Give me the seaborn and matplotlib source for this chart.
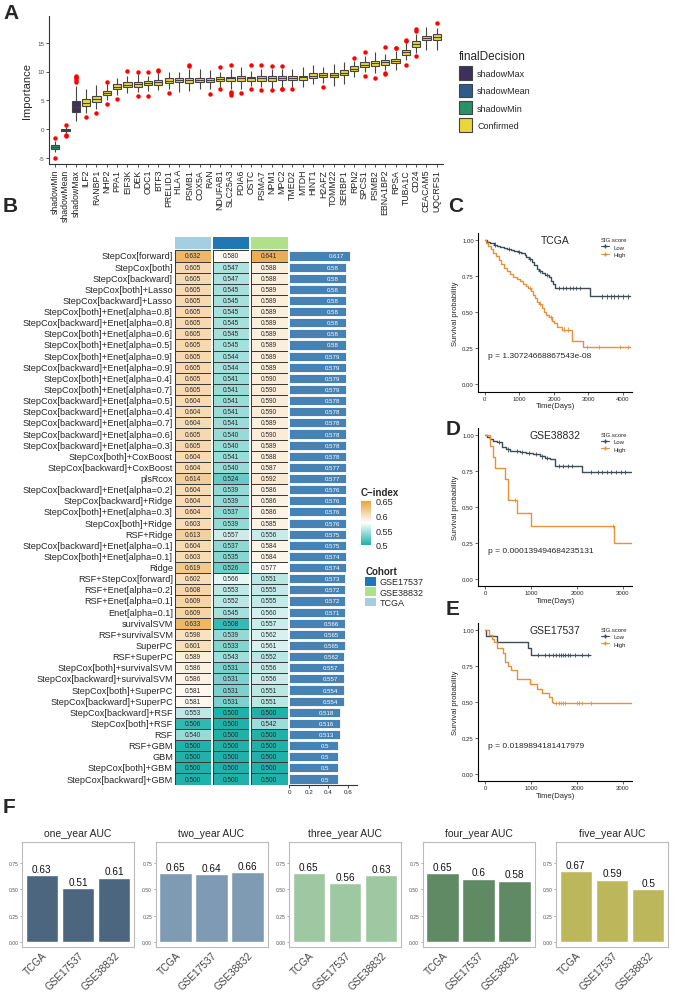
import numpy as np
import pandas as pd
import matplotlib
matplotlib.use("Agg")
import matplotlib.pyplot as plt
import matplotlib.transforms as mtransforms
import seaborn as sns
from matplotlib.colors import LinearSegmentedColormap, ListedColormap
from matplotlib.patches import Patch
from matplotlib.lines import Line2D

sns.set_theme(style="white")
plt.rcParams["font.family"] = ["Liberation Sans", "DejaVu Sans"]

# ---------------- Panel A data ----------------
features = ["shadowMin", "shadowMean", "shadowMax", "ILF2", "RANBP1", "NHP2", "PPA1", "EIF3K", "DEK",
            "ODC1", "BTF3", "PRELID1", "HLA A", "PSMB1", "COX5A", "RAN", "NDUFAB1", "SLC25A3", "PDIA6",
            "OSTC", "PSMA7", "NPM1", "MPC2", "TMED2", "MTDH", "HINT1", "H2AFZ", "TOMM22", "SERBP1",
            "RPN2", "SPCS1", "PSMB2", "EBNA1BP2", "RPSA", "TUBA1C", "CD24", "CEACAM5", "UQCRFS1"]
decision = ["shadowMin", "shadowMean", "shadowMax"] + ["Confirmed"] * 35
box_lo = [-4.0, -0.6, 1.5, 2.8, 3.5, 5.0, 6.0, 6.3, 6.4, 6.6, 6.8, 7.0, 6.5, 6.6, 6.9, 7.0, 7.4, 7.0, 7.0,
          7.5, 7.3, 7.2, 7.3, 7.4, 7.4, 7.8, 8.0, 7.5, 7.8, 9.0, 10.0, 9.8, 10.2, 10.3, 12.0, 13.2, 13.7, 13.8]
box_q1 = [-3.4, -0.35, 3.0, 4.1, 4.8, 5.9, 6.9, 7.3, 7.4, 7.6, 7.7, 8.0, 8.1, 8.0, 8.2, 8.1, 8.3, 8.4, 8.4,
          8.4, 8.4, 8.4, 8.5, 8.5, 8.6, 8.9, 9.0, 9.0, 9.4, 10.1, 10.8, 10.9, 11.2, 11.4, 12.9, 14.3, 15.4, 15.5]
box_med = [-3.0, -0.1, 3.9, 4.6, 5.3, 6.3, 7.3, 7.7, 7.8, 8.0, 8.1, 8.4, 8.5, 8.5, 8.6, 8.5, 8.7, 8.8, 8.9,
           8.8, 8.8, 8.8, 8.9, 8.9, 9.0, 9.3, 9.4, 9.4, 9.8, 10.5, 11.2, 11.4, 11.6, 11.8, 13.3, 14.8, 15.8, 16.0]
box_q3 = [-2.7, 0.1, 4.9, 5.2, 5.8, 6.7, 7.8, 8.1, 8.2, 8.4, 8.5, 8.8, 8.8, 8.9, 8.9, 8.8, 9.0, 9.1, 9.3,
          9.0, 9.2, 9.2, 9.3, 9.3, 9.3, 9.7, 9.7, 9.8, 10.2, 10.9, 11.6, 11.8, 12.0, 12.2, 13.7, 15.2, 16.2, 16.5]
box_hi = [-2.0, 0.4, 7.5, 7.0, 7.6, 7.8, 8.8, 9.3, 9.5, 9.3, 9.7, 10.0, 10.0, 10.5, 10.4, 10.2, 10.0, 10.5, 10.8,
          10.1, 10.5, 10.5, 10.5, 10.5, 10.8, 11.1, 10.8, 11.3, 11.7, 11.8, 12.7, 13.3, 13.0, 13.5, 15.0, 16.5, 17.7, 17.6]
out_feature = ["shadowMin", "shadowMin", "shadowMean", "shadowMean", "shadowMean",
               "shadowMax", "shadowMax", "shadowMax", "shadowMax", "shadowMax",
               "ILF2", "RANBP1", "NHP2", "NHP2", "PPA1", "EIF3K", "DEK", "DEK", "ODC1", "ODC1",
               "BTF3", "BTF3", "PRELID1", "PSMB1", "PSMB1", "RAN", "NDUFAB1", "NDUFAB1",
               "SLC25A3", "SLC25A3", "SLC25A3", "SLC25A3", "PDIA6", "OSTC", "OSTC", "PSMA7", "PSMA7",
               "NPM1", "NPM1", "MPC2", "MPC2", "MPC2", "TMED2", "H2AFZ", "RPN2", "SPCS1", "SPCS1",
               "PSMB2", "EBNA1BP2", "EBNA1BP2", "EBNA1BP2", "RPSA", "RPSA", "TUBA1C", "TUBA1C", "TUBA1C",
               "CD24", "CD24", "CD24", "UQCRFS1"]
out_value = [-1.5, -5.0, 0.8, -1.0, -1.1,
             8.2, 8.5, 8.8, 9.1, 9.3,
             2.1, 2.9, 4.3, 8.1, 5.2, 10.1, 10.0, 5.7, 10.0, 5.8,
             10.1, 10.3, 6.2, 10.9, 11.1, 6.1, 10.7, 6.9,
             11.1, 6.5, 6.2, 6.0, 6.3, 11.1, 7.0, 11.1, 6.8,
             10.9, 6.8, 11.0, 6.9, 7.0, 6.9, 7.3, 12.3, 13.4, 9.2,
             8.9, 14.2, 9.6, 9.8, 14.0, 14.1, 15.3, 15.4, 11.2,
             17.0, 17.3, 12.6, 18.4]
decision_order = ["shadowMax", "shadowMean", "shadowMin", "Confirmed"]
decision_colors = ["#3E2F5B", "#2E5C8A", "#2A9068", "#E9D63A"]

# ---------------- Panel B data ----------------
methods = ["StepCox[forward]", "StepCox[both]", "StepCox[backward]", "StepCox[both]+Lasso",
           "StepCox[backward]+Lasso", "StepCox[both]+Enet[alpha=0.8]", "StepCox[backward]+Enet[alpha=0.8]",
           "StepCox[both]+Enet[alpha=0.6]", "StepCox[both]+Enet[alpha=0.5]", "StepCox[both]+Enet[alpha=0.9]",
           "StepCox[backward]+Enet[alpha=0.9]", "StepCox[both]+Enet[alpha=0.4]", "StepCox[both]+Enet[alpha=0.7]",
           "StepCox[backward]+Enet[alpha=0.5]", "StepCox[backward]+Enet[alpha=0.4]",
           "StepCox[backward]+Enet[alpha=0.7]", "StepCox[backward]+Enet[alpha=0.6]",
           "StepCox[backward]+Enet[alpha=0.3]", "StepCox[both]+CoxBoost", "StepCox[backward]+CoxBoost",
           "plsRcox", "StepCox[backward]+Enet[alpha=0.2]", "StepCox[backward]+Ridge",
           "StepCox[both]+Enet[alpha=0.3]", "StepCox[both]+Ridge", "RSF+Ridge",
           "StepCox[backward]+Enet[alpha=0.1]", "StepCox[both]+Enet[alpha=0.1]", "Ridge",
           "RSF+StepCox[forward]", "RSF+Enet[alpha=0.2]", "RSF+Enet[alpha=0.1]", "Enet[alpha=0.1]",
           "survivalSVM", "RSF+survivalSVM", "SuperPC", "RSF+SuperPC", "StepCox[both]+survivalSVM",
           "StepCox[backward]+survivalSVM", "StepCox[both]+SuperPC", "StepCox[backward]+SuperPC",
           "StepCox[backward]+RSF", "StepCox[both]+RSF", "RSF", "RSF+GBM", "GBM", "StepCox[both]+GBM",
           "StepCox[backward]+GBM"]
cidx_tcga = [0.632, 0.605, 0.605, 0.605, 0.605, 0.605, 0.605, 0.605, 0.605, 0.605, 0.605, 0.605, 0.605,
             0.604, 0.604, 0.604, 0.605, 0.605, 0.604, 0.604, 0.614, 0.604, 0.604, 0.604, 0.603, 0.613,
             0.604, 0.603, 0.619, 0.602, 0.608, 0.609, 0.609, 0.633, 0.598, 0.601, 0.589, 0.586, 0.586,
             0.581, 0.581, 0.553, 0.506, 0.540, 0.500, 0.500, 0.500, 0.500]
cidx_gse17537 = [0.580, 0.547, 0.547, 0.545, 0.545, 0.545, 0.545, 0.545, 0.545, 0.544, 0.544, 0.541, 0.541,
                 0.541, 0.541, 0.541, 0.540, 0.540, 0.541, 0.540, 0.524, 0.539, 0.539, 0.537, 0.539, 0.557,
                 0.537, 0.535, 0.526, 0.566, 0.553, 0.552, 0.545, 0.508, 0.539, 0.533, 0.543, 0.531, 0.531,
                 0.531, 0.531, 0.500, 0.500, 0.500, 0.500, 0.500, 0.500, 0.500]
cidx_gse38832 = [0.641, 0.588, 0.588, 0.589, 0.589, 0.589, 0.589, 0.589, 0.589, 0.589, 0.589, 0.590, 0.590,
                 0.590, 0.590, 0.589, 0.590, 0.589, 0.588, 0.587, 0.592, 0.586, 0.586, 0.586, 0.585, 0.556,
                 0.584, 0.584, 0.577, 0.551, 0.555, 0.555, 0.560, 0.557, 0.562, 0.561, 0.552, 0.556, 0.556,
                 0.551, 0.551, 0.500, 0.542, 0.500, 0.500, 0.500, 0.500, 0.500]
cidx_mean = [0.617, 0.58, 0.58, 0.58, 0.58, 0.58, 0.58, 0.58, 0.58, 0.579, 0.579, 0.579, 0.579,
             0.578, 0.578, 0.578, 0.578, 0.578, 0.578, 0.577, 0.577, 0.576, 0.576, 0.576, 0.576, 0.575,
             0.575, 0.574, 0.574, 0.573, 0.572, 0.572, 0.571, 0.566, 0.565, 0.565, 0.562, 0.557, 0.557,
             0.554, 0.554, 0.518, 0.516, 0.513, 0.5, 0.5, 0.5, 0.5]
heat_cols = ["TCGA", "GSE17537", "GSE38832"]
cohort_colors = {"TCGA": "#A6CEE3", "GSE17537": "#1F78B4", "GSE38832": "#B2DF8A"}
cohort_legend = ["GSE17537", "GSE38832", "TCGA"]

# ---------------- Panels C-E data (Kaplan-Meier) ----------------
c_low_t = [0, 60, 150, 250, 350, 450, 550, 650, 750, 850, 950, 1050, 1150, 1200, 1280, 1350, 1420, 1500,
           1560, 1650, 1750, 1850, 1920, 1980, 2030, 3050, 4200]
c_low_s = [1.0, 0.99, 0.98, 0.97, 0.96, 0.955, 0.945, 0.94, 0.93, 0.925, 0.92, 0.91, 0.90, 0.885, 0.87,
           0.85, 0.83, 0.80, 0.785, 0.77, 0.76, 0.745, 0.72, 0.70, 0.667, 0.61, 0.61]
c_low_cens = [300, 700, 1000, 1300, 1600, 1800, 2150, 2250, 2350, 2450, 2550, 2650, 2750,
              3400, 3550, 3650, 3750, 3850, 4000, 4150]
c_high_t = [0, 40, 100, 170, 240, 320, 400, 480, 560, 650, 730, 820, 920, 1010, 1100, 1200, 1260, 1330,
            1400, 1460, 1520, 1580, 1640, 1700, 1780, 1850, 1930, 2000, 2100, 2230, 2520, 2850, 4200]
c_high_s = [1.0, 0.98, 0.96, 0.94, 0.915, 0.89, 0.86, 0.835, 0.81, 0.785, 0.765, 0.745, 0.73, 0.715,
            0.70, 0.685, 0.67, 0.645, 0.62, 0.60, 0.575, 0.56, 0.53, 0.50, 0.48, 0.465, 0.44, 0.425,
            0.40, 0.38, 0.30, 0.257, 0.257]
c_high_cens = [1300, 1600, 1900, 2300, 2400, 2950, 3300, 3900, 4150]

d_low_t = [0, 50, 109, 180, 254, 362, 450, 543, 761, 900, 1050, 1196, 1300, 1413, 1522, 2101, 3190]
d_low_s = [1.0, 0.985, 0.972, 0.96, 0.95, 0.915, 0.90, 0.89, 0.88, 0.875, 0.868, 0.852, 0.84, 0.83,
           0.783, 0.741, 0.741]
d_low_cens = [300, 500, 700, 800, 950, 1100, 1250, 1350, 1600, 1700, 1800, 1900, 2300, 2450, 2550,
              2650, 2750, 2850, 2950, 3050]
d_high_t = [0, 109, 181, 217, 435, 507, 700, 990, 2800, 3190]
d_high_s = [1.0, 0.926, 0.845, 0.769, 0.694, 0.549, 0.458, 0.366, 0.247, 0.247]
d_high_cens = [650, 2780]

e_low_t = [0, 20, 254, 942, 993, 2283]
e_low_s = [1.0, 0.96, 0.915, 0.873, 0.826, 0.826]
e_low_cens = [1150, 1300, 1400, 1480, 1550, 1600, 1650, 1700, 1750, 1800, 1850, 1950, 2100, 2250]
e_high_t = [0, 80, 152, 203, 254, 399, 435, 507, 558, 688, 703, 978, 1138, 1232, 1399, 1449, 1486, 3190]
e_high_s = [1.0, 0.965, 0.94, 0.915, 0.873, 0.838, 0.78, 0.75, 0.72, 0.686, 0.663, 0.628, 0.593, 0.565,
            0.535, 0.50, 0.493, 0.493]
e_high_cens = [1550, 1600, 1650, 1700, 1750, 2000, 2050, 2100, 2300]

# ---------------- Panel F data ----------------
auc_cohorts = ["TCGA", "GSE17537", "GSE38832"]
auc_titles = ["one_year AUC", "two_year AUC", "three_year AUC", "four_year AUC", "five_year AUC"]
auc_one = [0.63, 0.51, 0.61]
auc_two = [0.65, 0.64, 0.66]
auc_three = [0.65, 0.56, 0.63]
auc_four = [0.65, 0.6, 0.58]
auc_five = [0.67, 0.59, 0.5]
auc_colors = ["#4D6680", "#7F9BB3", "#9DC8A1", "#5F8A64", "#BDB75C"]

# ---------------- figure ----------------
W, H = 680, 995
fig = plt.figure(figsize=(W / 100, H / 100), dpi=100)


def ax_px(l, t, w, h):
    return fig.add_axes([l / W, 1 - (t + h) / H, w / W, h / H])


def panel_label(x, y, s):
    fig.text(x / W, 1 - y / H, s, fontsize=15, fontweight="bold", va="top", ha="left")


# ---------------- Panel A ----------------
axA = ax_px(49, 17, 394, 148)
rows = []
for f, d, lo, q1, md, q3, hi in zip(features, decision, box_lo, box_q1, box_med, box_q3, box_hi):
    for v in (lo, q1, q1, md, q3, q3, hi):
        rows.append((f, d, v))
dfA = pd.DataFrame(rows, columns=["feature", "decision", "value"])
sns.boxplot(data=dfA, x="feature", y="value", hue="decision", order=features, hue_order=decision_order,
            palette=decision_colors, whis=(0, 100), showfliers=False, showcaps=False, dodge=False,
            width=0.8, linecolor="#444444", linewidth=0.8, saturation=1, legend=False, ax=axA)
sns.stripplot(x=out_feature, y=out_value, order=features, color="red", jitter=False, size=3.2,
              linewidth=0, ax=axA)
axA.set_xlim(-0.6, 37.6)
axA.set_ylim(-6.0, 19.6)
axA.set_yticks([-5, 0, 5, 10, 15])
axA.set_yticklabels(["-5", "0", "5", "10", "15"], fontsize=4.5, color="#4d4d4d")
axA.set_xticks(range(len(features)))
axA.set_xticklabels(features, rotation=90, fontsize=6.3, color="#222222")
axA.set_xlabel("")
axA.set_ylabel("Importance", fontsize=8, labelpad=4)
for s in ["top", "right"]:
    axA.spines[s].set_visible(False)
for s in ["left", "bottom"]:
    axA.spines[s].set_color("#333333")
    axA.spines[s].set_linewidth(0.8)
axA.tick_params(axis="both", length=2, width=0.6, pad=1.5, color="#333333", left=True, bottom=True)
legA = fig.legend(handles=[Patch(facecolor=c, edgecolor="#444444", linewidth=0.8) for c in decision_colors],
                  labels=decision_order, title="finalDecision", loc="upper left",
                  bbox_to_anchor=(451 / W, 1 - 43 / H), frameon=False, fontsize=6.5, title_fontsize=8.5,
                  handlelength=1.4, handleheight=1.9, labelspacing=0.45, alignment="left",
                  handletextpad=0.6)
panel_label(3, 4, "A")

# ---------------- Panel B ----------------
cmap = LinearSegmentedColormap.from_list("cidx", [(0, "#20B2AA"), (0.5, "#FFFFFF"), (1, "#E9A23B")])
col_x = [175, 213, 251]
col_w = 36.5
top_B, height_B = 251.4, 534.2
heat_vals = {"TCGA": cidx_tcga, "GSE17537": cidx_gse17537, "GSE38832": cidx_gse38832}
cb_ax = ax_px(361, 501.7, 10, 44)
for j, col in enumerate(heat_cols):
    axh = ax_px(col_x[j], top_B, col_w, height_B)
    dfh = pd.DataFrame({col: heat_vals[col]}, index=methods)
    sns.heatmap(dfh, cmap=cmap, vmin=0.5, vmax=0.65, annot=True, fmt=".3f",
                annot_kws={"size": 4.7, "color": "#2a2a2a"}, linewidths=0.6, linecolor="#3a3a3a",
                cbar=(j == 0), cbar_ax=cb_ax if j == 0 else None, xticklabels=False,
                yticklabels=(j == 0), ax=axh)
    if j == 0:
        axh.tick_params(axis="y", length=0, pad=1.5, labelsize=6.6)
        axh.set_ylabel("")
    axt = ax_px(col_x[j], 238, col_w, 12)
    sns.heatmap(np.zeros((1, 1)), cmap=ListedColormap([cohort_colors[col]]), cbar=False,
                xticklabels=False, yticklabels=False, ax=axt)

cb_ax.set_yticks([0.5, 0.55, 0.6, 0.65])
cb_ax.set_yticklabels(["0.5", "0.55", "0.6", "0.65"], fontsize=6.5)
cb_ax.tick_params(length=2, width=0.5, pad=1, color="white")
for s in cb_ax.spines.values():
    s.set_visible(False)
fig.text(361 / W, 1 - 488 / H, "C\u2212index", fontsize=7, fontweight="bold", va="top", ha="left")

legB = fig.legend(handles=[Patch(facecolor=cohort_colors[c], edgecolor="none") for c in cohort_legend],
                  labels=cohort_legend, title="Cohort", loc="upper left",
                  bbox_to_anchor=(357 / W, 1 - 559 / H), frameon=False, fontsize=6.5,
                  handlelength=1.2, handleheight=1.1, labelspacing=0.1, handletextpad=0.4,
                  alignment="left", title_fontproperties={"weight": "bold", "size": 7})

axb = ax_px(289, top_B, 68, height_B)
sns.barplot(x=cidx_mean, y=methods, orient="h", color="#4682B4", width=0.82, saturation=1,
            edgecolor="white", linewidth=0.6, ax=axb)
for i, v in enumerate(cidx_mean):
    axb.text(v - 0.135, i, f"{v:g}", ha="center", va="center", color="white", fontsize=4.4)
axb.set_ylim(len(methods) - 0.5, -0.5)
axb.set_xlim(0, 0.69)
axb.set_yticks([])
axb.set_xticks([0, 0.2, 0.4, 0.6])
axb.set_xticklabels(["0", "0.2", "0.4", "0.6"], fontsize=4.5)
axb.set_ylabel("")
for s in ["top", "right", "left"]:
    axb.spines[s].set_visible(False)
axb.spines["bottom"].set_color("#333333")
axb.spines["bottom"].set_linewidth(0.8)
axb.tick_params(axis="x", length=2, width=0.6, pad=1, bottom=True, color="#333333")
panel_label(3, 197, "B")

# ---------------- Panels C-E ----------------
low_col, high_col = "#3B4D57", "#E8903A"


def step_value(ts, ss, c):
    idx = np.searchsorted(np.asarray(ts), c, side="right") - 1
    return np.asarray(ss)[idx]


def km_panel(top, lt, ls, lc, ht, hs, hc, xlim, xticks, title, ptxt):
    ax = ax_px(478, top, 154, 158.4)
    df = pd.concat([pd.DataFrame({"time": lt, "surv": ls, "grp": "Low"}),
                    pd.DataFrame({"time": ht, "surv": hs, "grp": "High"})])
    sns.lineplot(data=df, x="time", y="surv", hue="grp", hue_order=["Low", "High"],
                 palette=[low_col, high_col], estimator=None, sort=False, drawstyle="steps-post",
                 linewidth=1.0, legend=False, ax=ax)
    cens = pd.concat([pd.DataFrame({"time": lc, "surv": step_value(lt, ls, lc), "grp": "Low"}),
                      pd.DataFrame({"time": hc, "surv": step_value(ht, hs, hc), "grp": "High"})])
    sns.scatterplot(data=cens, x="time", y="surv", hue="grp", hue_order=["Low", "High"],
                    palette=[low_col, high_col], marker="+", s=10, linewidth=0.6, legend=False, ax=ax)
    ax.set_xlim(*xlim)
    ax.set_ylim(-0.05, 1.05)
    ax.set_xticks(xticks)
    ax.set_xticklabels([str(t) for t in xticks], fontsize=4.3)
    ax.set_yticks([0, 0.25, 0.5, 0.75, 1.0])
    ax.set_yticklabels(["0.00", "0.25", "0.50", "0.75", "1.00"], fontsize=4.3)
    ax.set_xlabel("Time(Days)", fontsize=5.5, labelpad=1)
    ax.set_ylabel("Survival probability", fontsize=5.5, labelpad=2)
    for s in ["top", "right"]:
        ax.spines[s].set_visible(False)
    for s in ["left", "bottom"]:
        ax.spines[s].set_color("black")
        ax.spines[s].set_linewidth(0.8)
    ax.tick_params(length=2, width=0.5, pad=1, left=True, bottom=True)
    ax.text(0.5, 0.955, title, transform=ax.transAxes, ha="center", va="center", fontsize=7.5)
    ax.text(0.065, 0.2, ptxt, transform=mtransforms.blended_transform_factory(ax.transAxes, ax.transData),
            ha="left", va="center", fontsize=6)
    ax.legend(handles=[Line2D([], [], color=low_col, lw=0.8, marker="+", ms=3),
                       Line2D([], [], color=high_col, lw=0.8, marker="+", ms=3)],
              labels=["Low", "High"], title="SIG.score", loc="upper left",
              bbox_to_anchor=(0.77, 1.0), frameon=False, fontsize=4.3, title_fontsize=4.3,
              handlelength=1.4, labelspacing=0.35, alignment="left", borderpad=0.2)
    return ax


km_panel(234.1, c_low_t, c_low_s, c_low_cens, c_high_t, c_high_s, c_high_cens,
         (-200, 4260), [0, 1000, 2000, 3000, 4000], "TCGA", "p = 1.30724668867543e-08")
km_panel(428.8, d_low_t, d_low_s, d_low_cens, d_high_t, d_high_s, d_high_cens,
         (-152, 3196), [0, 1000, 2000, 3000], "GSE38832", "p = 0.000139494684235131")
km_panel(623.8, e_low_t, e_low_s, e_low_cens, e_high_t, e_high_s, e_high_cens,
         (-152, 3196), [0, 1000, 2000, 3000], "GSE17537", "p = 0.0189894181417979")
panel_label(448, 197, "C")
panel_label(446, 420, "D")
panel_label(446, 600, "E")

# ---------------- Panel F ----------------
auc_sets = [auc_one, auc_two, auc_three, auc_four, auc_five]
for i, (ttl, vals, colr) in enumerate(zip(auc_titles, auc_sets, auc_colors)):
    ax = ax_px(22 + i * 133.5, 843, 112, 105)
    sns.barplot(x=auc_cohorts, y=vals, color=colr, width=0.9, saturation=1, ax=ax)
    for j, v in enumerate(vals):
        ax.text(j, v + 0.012, f"{v:g}", ha="center", va="bottom", fontsize=7.2, color="#111111")
    ax.set_ylim(-0.045, 0.945)
    ax.set_xlim(-0.55, 2.55)
    ax.set_yticks([0, 0.25, 0.5, 0.75])
    ax.set_yticklabels(["0.00", "0.25", "0.50", "0.75"], fontsize=3.6, color="#555555")
    ax.set_xticks([0, 1, 2])
    ax.set_xticklabels(auc_cohorts, rotation=45, ha="right", rotation_mode="anchor", fontsize=7.2,
                       color="#444444")
    ax.set_title(ttl, fontsize=7.5, pad=4)
    ax.set_xlabel("")
    ax.set_ylabel("")
    for s in ax.spines.values():
        s.set_color("#BBBBBB")
        s.set_linewidth(0.8)
    ax.tick_params(axis="y", length=1.5, width=0.5, pad=1, left=True, color="#888888")
    ax.tick_params(axis="x", length=0, pad=2)
panel_label(3, 798, "F")

fig.savefig("out.png", dpi=100)
